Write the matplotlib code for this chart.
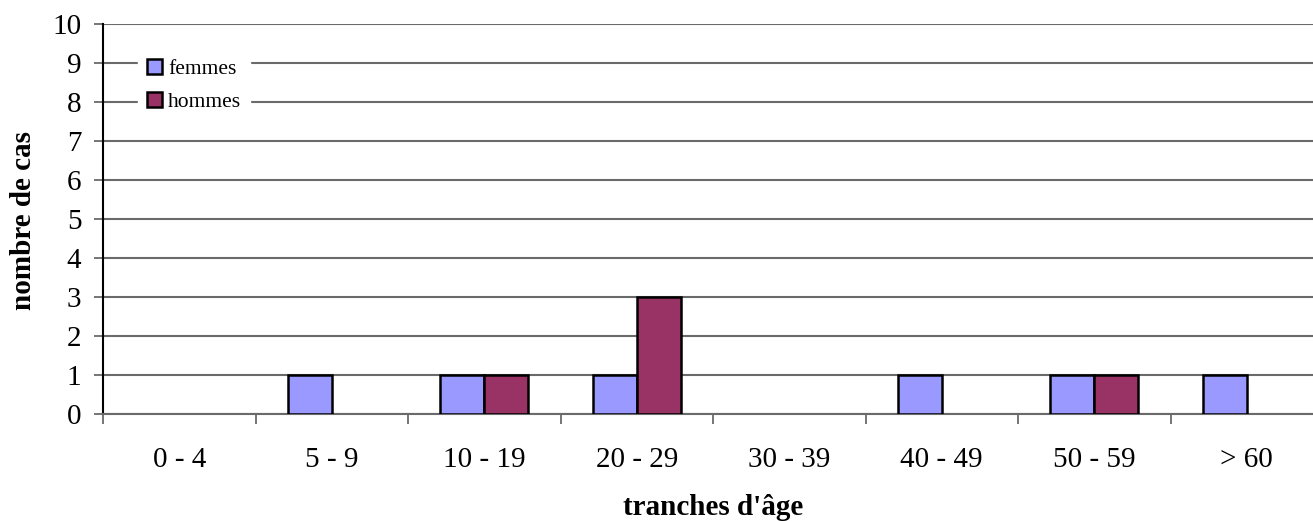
import matplotlib
matplotlib.use("Agg")
import matplotlib.pyplot as plt
import numpy as np

plt.rcParams['font.family'] = ['Liberation Serif', 'DejaVu Serif']

categories = ['0 - 4', '5 - 9', '10 - 19', '20 - 29', '30 - 39', '40 - 49', '50 - 59', '> 60']
femmes = [0, 1, 1, 1, 0, 1, 1, 1]
hommes = [0, 0, 1, 3, 0, 0, 1, 0]

fig = plt.figure(figsize=(13.13, 5.21), dpi=100)
# plot area runs slightly past the right edge of the picture
ax = fig.add_axes([103 / 1313, 1 - 414 / 521, 1220 / 1313, 390 / 521])

x = np.arange(len(categories))
w = 0.29
grid_col = '#6a6a6a'

ax.set_axisbelow(True)
ax.yaxis.grid(True, color=grid_col, linewidth=1.5)

# zero-height bars get no outline
lw_f = [1.8 if v else 0 for v in femmes]
lw_h = [1.8 if v else 0 for v in hommes]
ax.bar(x - w / 2, femmes, w, color='#9999FF', edgecolor='black', linewidth=lw_f,
       label='femmes', zorder=3)
ax.bar(x + w / 2, hommes, w, color='#993366', edgecolor='black', linewidth=lw_h,
       label='hommes', zorder=3)

ax.set_xlim(-0.5, len(categories) - 0.5)
ax.set_ylim(0, 10)
ax.set_yticks(range(0, 11))
ax.set_xticks(x)
ax.set_xticklabels(categories)
ax.set_xticks(np.arange(-0.5, len(categories)), minor=True)
ax.tick_params(axis='x', which='major', length=0, pad=24, labelsize=21)
ax.tick_params(axis='x', which='minor', length=7, width=1.3, color=grid_col,
               direction='out')
ax.tick_params(axis='y', length=6.5, width=1.3, color=grid_col, labelsize=21, pad=9)

for side in ['top', 'right']:
    ax.spines[side].set_visible(False)
ax.spines['left'].set_color('black')
ax.spines['left'].set_linewidth(1.5)
ax.spines['bottom'].set_color(grid_col)
ax.spines['bottom'].set_linewidth(1.5)

fig.text(713 / 1313, 6 / 521, "tranches d'âge", ha='center', va='baseline',
         fontsize=21, fontweight='bold')
fig.text(24 / 1313, 1 - 220 / 521, 'nombre de cas', ha='center', va='center',
         rotation=90, fontsize=21, fontweight='bold')

leg = ax.legend(loc='upper left', bbox_to_anchor=(138 / 1313, 1 - 50 / 521),
                bbox_transform=fig.transFigure, frameon=True, fancybox=False,
                framealpha=1, edgecolor='white', fontsize=15.5,
                handlelength=0.7, handleheight=0.7, handletextpad=0.3,
                labelspacing=0.6, borderpad=0.4, borderaxespad=0)
for h in leg.legend_handles:
    h.set_linewidth(1.8)
leg.set_zorder(5)

fig.savefig('out.png', dpi=100)
